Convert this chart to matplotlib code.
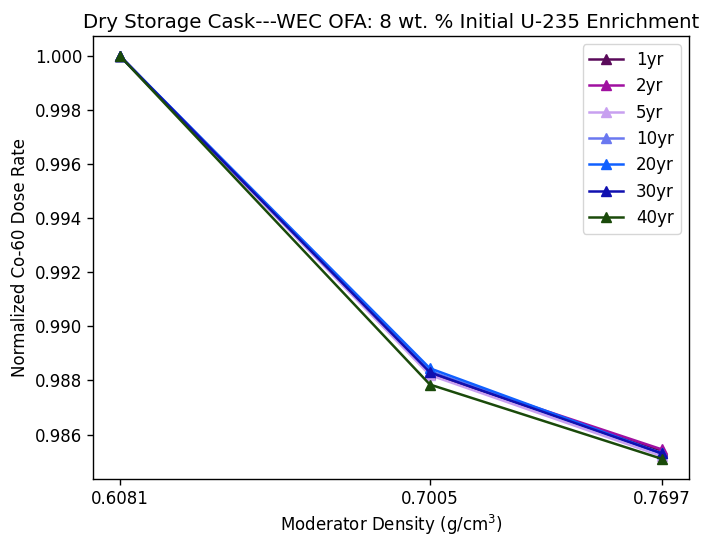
import matplotlib
matplotlib.use("Agg")
import matplotlib.pyplot as plt

densities = [0.6081, 0.7005, 0.7697]
tick_labels = ["0.6081", "0.7005", "0.7697"]
labels = ["1yr", "2yr", "5yr", "10yr", "20yr", "30yr", "40yr"]
colors = ["#5a0a5a", "#a010a0", "#c8a0f0", "#6a78f0", "#1060ff", "#1010b0", "#1a4a0a"]
v1 = [1.0, 0.98825, 0.98540]
v2 = [1.0, 0.98830, 0.98545]
v5 = [1.0, 0.98820, 0.98520]
v10 = [1.0, 0.98835, 0.98530]
v20 = [1.0, 0.98845, 0.98530]
v30 = [1.0, 0.98830, 0.98530]
v40 = [1.0, 0.98785, 0.98510]
series = [v1, v2, v5, v10, v20, v30, v40]

plt.rcParams["font.size"] = 12
fig = plt.figure(figsize=(7.05, 5.38), dpi=100)
ax = fig.add_axes([93/705, 1-479/538, (689-93)/705, (479-36)/538])
for lab, c, v in zip(labels, colors, series):
    ax.plot(densities, v, marker="^", color=c, label=lab, linewidth=1.8, markersize=7)
ax.set_xticks(densities)
ax.set_xticklabels(tick_labels)
ax.tick_params(length=4.2, width=1)
for s in ax.spines.values():
    s.set_linewidth(1)
ax.set_xlabel("Moderator Density (g/cm$^3$)")
ax.set_ylabel("Normalized Co-60 Dose Rate")
ax.set_title("Dry Storage Cask---WEC OFA: 8 wt. % Initial U-235 Enrichment", fontsize=14.2)
ax.legend(loc="upper right")
fig.savefig("out.png", dpi=100)
